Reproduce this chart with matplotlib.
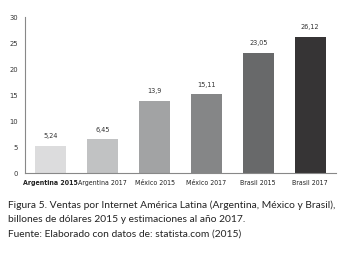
import matplotlib
matplotlib.use("Agg")
import matplotlib.pyplot as plt

# Chart data
categories = ["Argentina 2015", "Argentina 2017", "México 2015",
              "México 2017", "Brasil 2015", "Brasil 2017"]
values = [5.24, 6.45, 13.9, 15.11, 23.05, 26.12]
value_labels = ["5,24", "6,45", "13,9", "15,11", "23,05", "26,12"]
yticks = [0, 5, 10, 15, 20, 25, 30]
colors = ["#dcdcdd", "#c1c2c3", "#a2a3a4", "#858687", "#68696a", "#363435"]

narrow = dict(family="DejaVu Sans", stretch="condensed")
caption_font = ["Lato", "DejaVu Sans"]

fig = plt.figure(figsize=(3.42, 2.54), dpi=100)
ax = fig.add_axes([25 / 342, 1 - 173 / 254, 311 / 342, 156 / 254])

x = list(range(len(categories)))
ax.bar(x, values, width=0.6, color=colors, zorder=2)

for xi, v, lab in zip(x, values, value_labels):
    ax.text(xi, v + 1.3, lab, ha="center", va="bottom",
            fontsize=5.2, color="#333333", **narrow)

ax.set_xlim(-0.5, 5.5)
ax.set_ylim(0, 30)
ax.set_yticks(yticks)
ax.set_yticklabels([str(t) for t in yticks], fontsize=5.4,
                   color="#333333", **narrow)
ax.set_xticks(x)
ax.set_xticklabels(categories, fontsize=5.0, color="#222222", **narrow)
ax.get_xticklabels()[0].set_fontweight("bold")
ax.tick_params(axis="x", length=0, pad=5)
ax.tick_params(axis="y", length=0, pad=5)

for side in ["top", "right"]:
    ax.spines[side].set_visible(False)
ax.spines["left"].set_color("#888888")
ax.spines["bottom"].set_color("#888888")
ax.spines["left"].set_linewidth(0.8)
ax.spines["bottom"].set_linewidth(0.8)

fig.text(8 / 342, 1 - 205 / 254,
         "Figura 5. Ventas por Internet América Latina (Argentina, México y Brasil),",
         fontsize=7.4, family=caption_font, va="center", ha="left", color="#222222")
fig.text(8 / 342, 1 - 219 / 254,
         "billones de dólares 2015 y estimaciones al año 2017.",
         fontsize=7.4, family=caption_font, va="center", ha="left", color="#222222")
fig.text(8 / 342, 1 - 234 / 254,
         "Fuente: Elaborado con datos de: statista.com (2015)",
         fontsize=7.4, family=caption_font, va="center", ha="left", color="#222222")

fig.savefig("out.png", dpi=100)
